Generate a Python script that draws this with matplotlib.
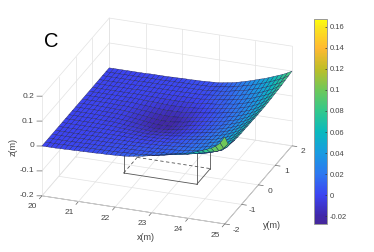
import numpy as np
import matplotlib
matplotlib.use('Agg')
import matplotlib.pyplot as plt
from matplotlib.colors import LinearSegmentedColormap, Normalize
from matplotlib.cm import ScalarMappable
from mpl_toolkits.mplot3d import proj3d

plt.rcParams['font.family'] = ['Liberation Sans', 'DejaVu Sans']
plt.rcParams['axes.unicode_minus'] = False

# surface heights in mm, one row per y (-2 to 2), one column per x (20 to 25)
x_grid = np.linspace(20, 25, 41)
y_grid = np.linspace(-2, 2, 21)
z_mm = [
    [0,0,0,0,1,1,2,2,3,3,4,4,5,6,6,7,8,9,10,12,15,18,21,25,30,34,38,42,46,50,54,58,62,68,74,80,88,96,106,122,150],
    [0,0,0,0,1,1,1,1,2,2,3,3,3,4,4,5,5,6,7,8,8,9,11,13,15,18,21,25,29,32,36,39,43,47,52,57,62,66,72,85,105],
    [0,0,0,0,0,0,1,1,1,2,2,2,3,3,4,4,4,5,5,6,7,7,8,9,10,12,13,15,17,19,22,25,28,31,35,40,46,53,60,74,95],
    [0,0,0,0,0,0,0,1,1,1,2,2,2,2,3,3,3,3,4,4,5,5,6,7,8,10,11,13,14,16,19,22,25,29,34,39,45,52,60,72,90],
    [0,0,0,0,0,0,0,0,1,1,1,1,1,1,1,1,1,1,1,2,2,3,4,4,6,8,9,11,13,15,17,20,23,27,32,38,45,53,62,74,88],
    [0,0,0,0,0,0,0,0,0,1,0,0,0,0,0,-1,-1,-1,-2,-1,-1,0,2,2,4,6,7,9,11,14,16,19,22,27,32,37,44,52,61,73,87],
    [0,0,0,0,0,0,0,0,0,0,0,-1,-2,-2,-3,-4,-4,-5,-6,-5,-5,-4,-2,-1,1,3,5,8,10,12,15,18,21,25,30,36,43,51,60,72,87],
    [0,0,0,0,0,0,0,0,-1,-1,-1,-2,-4,-5,-6,-8,-9,-10,-11,-10,-9,-8,-6,-5,-2,1,3,6,8,10,13,17,20,24,29,35,42,50,59,71,86],
    [0,0,0,0,0,0,0,-1,-2,-1,-2,-4,-6,-8,-9,-11,-13,-14,-16,-15,-15,-13,-11,-9,-6,-3,0,3,6,9,12,15,19,23,28,34,41,49,59,71,86],
    [0,0,0,0,0,0,-1,-1,-2,-2,-3,-5,-7,-9,-11,-14,-16,-18,-20,-19,-19,-17,-14,-12,-8,-4,-1,2,5,8,11,14,17,22,27,33,40,48,58,70,85],
    [0,0,0,0,0,0,-1,-1,-2,-2,-3,-5,-8,-10,-12,-15,-17,-19,-21,-20,-20,-18,-15,-13,-9,-5,-2,2,5,8,11,14,17,22,27,33,40,48,58,70,85],
    [0,0,0,0,0,0,-1,-1,-2,-2,-3,-5,-7,-9,-11,-14,-16,-18,-20,-19,-19,-17,-14,-12,-8,-4,-1,2,5,8,11,14,17,22,27,33,40,48,58,70,85],
    [0,0,0,0,0,0,0,-1,-2,-1,-2,-4,-6,-8,-9,-11,-13,-14,-16,-15,-15,-13,-11,-9,-6,-3,0,3,6,9,12,15,19,23,28,34,41,49,59,71,85],
    [0,0,0,0,0,0,0,0,-1,-1,-1,-2,-4,-5,-6,-8,-9,-10,-11,-10,-10,-9,-7,-6,-3,0,2,5,8,10,14,17,20,24,29,35,42,50,60,72,86],
    [0,0,0,0,0,0,0,0,0,0,0,-1,-2,-3,-3,-4,-5,-6,-7,-6,-6,-5,-3,-2,0,3,5,7,10,12,16,18,22,26,31,37,44,52,62,73,87],
    [0,0,0,0,0,0,0,0,0,1,0,0,-1,-1,-1,-2,-2,-2,-3,-2,-2,-1,0,0,3,5,7,9,11,15,18,20,24,29,34,40,47,55,64,75,89],
    [0,0,0,0,0,0,0,0,0,1,1,0,0,0,0,0,0,0,0,1,1,1,2,2,5,7,9,11,13,16,19,23,27,31,36,43,50,57,66,77,90],
    [0,0,0,0,0,0,0,0,0,1,1,1,1,1,1,1,1,1,1,2,2,2,3,3,6,8,10,12,15,18,22,25,30,35,40,46,53,61,69,80,92],
    [0,0,0,0,0,0,0,0,0,1,1,1,1,1,2,2,2,2,3,3,3,4,4,5,7,9,11,14,17,21,25,28,33,39,44,50,57,65,73,83,95],
    [0,0,0,0,0,0,0,0,0,1,1,1,1,1,2,2,2,3,3,3,4,4,5,6,7,10,13,15,19,23,28,32,37,43,48,55,62,69,77,86,97],
    [0,0,0,0,0,0,0,0,0,1,1,1,1,1,2,2,3,3,3,4,4,5,6,7,8,11,14,17,21,26,31,36,42,48,53,60,67,74,81,90,100],
]
# the rim in the front corner stays green in the picture, colours stop here
colour_cap_mm = 100

# wire box sitting on the floor under the dip
box_x = [21.5, 23.5]
box_y = [-0.4, 0.4]
box_z = [-0.2, 0.0]

x_ticks = [20, 21, 22, 23, 24, 25]
y_ticks = [-2, -1, 0, 1, 2]
z_ticks = [-0.2, -0.1, 0, 0.1, 0.2]
z_tick_labels = ['-0.2', '-0.1', '0', '0.1', '0.2']
cbar_ticks = [-0.02, 0, 0.02, 0.04, 0.06, 0.08, 0.1, 0.12, 0.14, 0.16]
cbar_labels = ['-0.02', '0', '0.02', '0.04', '0.06', '0.08', '0.1', '0.12', '0.14', '0.16']
z_min, z_max = -0.0276, 0.1676

stops = [(-0.0276, '#46289c'), (-0.02, '#4028aa'), (0.0, '#3c44f2'), (0.02, '#2d78f0'),
         (0.04, '#199be1'), (0.06, '#0ab9be'), (0.08, '#32c88c'), (0.1, '#6ec85a'),
         (0.12, '#bebe28'), (0.14, '#ffb932'), (0.16, '#fae61e'), (0.1676, '#ffff0a')]
cmap = LinearSegmentedColormap.from_list('surf', [((v - z_min) / (z_max - z_min), c) for v, c in stops])
norm = Normalize(z_min, z_max)

W, H = 374, 252
fig = plt.figure(figsize=(W / 100, H / 100), dpi=100)

# axes box placed so the projected 3D box lands where it should
side = 289.0
cx, cy = 167.0, 121.0
left = cx - 0.5135 * side
bottom = H - (cy + 0.5135 * side)
ax = fig.add_axes([left / W, bottom / H, side / W, side / H], projection='3d',
                  proj_type='ortho', computed_zorder=False)
ax.set_box_aspect((194.6, 196.8, 110))
ax.view_init(elev=25, azim=-70)
ax.patch.set_alpha(0)

X, Y = np.meshgrid(x_grid, y_grid)
Z = np.array(z_mm) / 1000.0
colours = cmap(norm(np.minimum(Z, colour_cap_mm / 1000.0)))

ax.set_xlim(20, 25)
ax.set_ylim(-2, 2)
ax.set_zlim(-0.2, 0.2)
ax.set_xticks([])
ax.set_yticks([])
ax.set_zticks([])
for axis in [ax.xaxis, ax.yaxis, ax.zaxis]:
    axis.set_pane_color((1, 1, 1, 0))
    axis.pane.set_edgecolor('#dddddd')
    axis.line.set_linewidth(0.5)
ax.xaxis.line.set_color('#555555')
ax.yaxis.line.set_color('#555555')
ax.zaxis.line.set_color('#ffffff')

# grid on the floor and the two back walls, tick marks on the axes
grid_col = '#e2e2e2'
tick_col = '#666666'
for t in x_ticks:
    ax.plot([t, t], [-2, 2], [-0.2, -0.2], color=grid_col, lw=0.5, zorder=1)
    ax.plot([t, t], [2, 2], [-0.2, 0.2], color=grid_col, lw=0.5, zorder=1)
    ax.plot([t, t], [-2, -2.15], [-0.2, -0.2], color=tick_col, lw=0.5, zorder=1)
for t in y_ticks:
    ax.plot([20, 25], [t, t], [-0.2, -0.2], color=grid_col, lw=0.5, zorder=1)
    ax.plot([20, 20], [t, t], [-0.2, 0.2], color=grid_col, lw=0.5, zorder=1)
    ax.plot([25, 25.13], [t, t], [-0.2, -0.2], color=tick_col, lw=0.5, zorder=1)
for t in z_ticks:
    ax.plot([20, 25], [2, 2], [t, t], color=grid_col, lw=0.5, zorder=1)
    ax.plot([20, 20], [-2, 2], [t, t], color=grid_col, lw=0.5, zorder=1)
    ax.plot([20, 19.88], [-2, -2.034], [t, t], color=tick_col, lw=0.5, zorder=1)

# box next, the surface hides what is behind it
x0, x1 = box_x
y0, y1 = box_y
z0, z1 = box_z
box_col = '#555555'
ax.plot([x0, x1], [y0, y0], [z0, z0], color=box_col, lw=0.6, zorder=2)
ax.plot([x1, x1], [y0, y1], [z0, z0], color=box_col, lw=0.6, zorder=2)
ax.plot([x0, x1], [y1, y1], [z0, z0], color=box_col, lw=0.6, ls=(0, (4, 3)), zorder=2)
ax.plot([x0, x0], [y0, y1], [z0, z0], color=box_col, lw=0.6, ls=(0, (4, 3)), zorder=2)
ax.plot([x0, x0], [y0, y0], [z0, z1], color=box_col, lw=0.6, zorder=2)
ax.plot([x1, x1], [y0, y0], [z0, z1], color=box_col, lw=0.6, zorder=2)
ax.plot([x1, x1], [y1, y1], [z0, z1], color=box_col, lw=0.6, zorder=2)

ax.plot_surface(X, Y, Z, facecolors=colours, rstride=1, cstride=1, shade=False,
                edgecolor='#1c1c50', linewidth=0.25, antialiased=True, zorder=3)

# limits again, the extra lines stick out past the box
ax.set_xlim(20, 25)
ax.set_ylim(-2, 2)
ax.set_zlim(-0.2, 0.2)

# tick labels placed by hand, the 3D axis does not put them where matlab does
M = ax.get_proj()

def label3d(x, y, z, s, ha='center'):
    px, py, _ = proj3d.proj_transform(x, y, z, M)
    ax.text2D(px, py, s, transform=ax.transData, fontsize=6, color='#444444', ha=ha, va='center')

for t in x_ticks:
    label3d(t, -2.57, -0.2, str(t))
for t in y_ticks:
    label3d(25.4, t - 0.2, -0.2, str(t))
for t, s in zip(z_ticks, z_tick_labels):
    label3d(19.807, -2.055, t, s, ha='right')

fig.text(146 / W, 1 - 238 / H, 'x(m)', fontsize=6.5, color='#444444', ha='center', va='center')
fig.text(272 / W, 1 - 226 / H, 'y(m)', fontsize=6.5, color='#444444', ha='center', va='center')
fig.text(13 / W, 1 - 147 / H, 'z(m)', fontsize=6.5, color='#444444', ha='center', va='center', rotation=90)
fig.text(44 / W, 1 - 47 / H, 'C', fontsize=14.5, color='black')

# colorbar
cax = fig.add_axes([314 / W, 1 - 224 / H, 13 / W, 205 / H])
cb = fig.colorbar(ScalarMappable(norm=norm, cmap=cmap), cax=cax)
cb.set_ticks(cbar_ticks)
cb.set_ticklabels(cbar_labels)
cax.tick_params(axis='y', direction='in', length=1.5, width=0.5, color='#333333',
                labelsize=5.5, labelcolor='#444444', pad=2)
cb.outline.set_edgecolor('#999999')
cb.outline.set_linewidth(0.7)

fig.savefig('out.png', dpi=100)
